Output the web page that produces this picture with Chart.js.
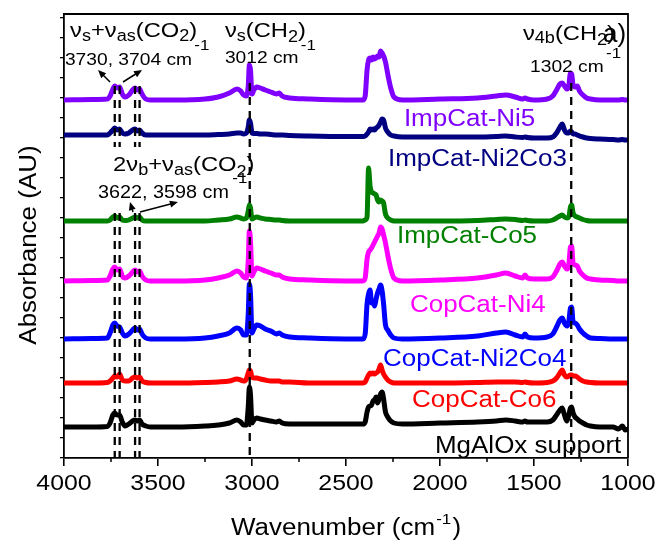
<!DOCTYPE html>
<html><head><meta charset="utf-8">
<script src="https://cdn.jsdelivr.net/npm/chart.js@4.4.0/dist/chart.umd.min.js"></script>
<style>html,body{margin:0;padding:0;background:#fff;}</style>
</head><body>
<canvas id="c" width="659" height="542"></canvas>
<script>
// ---------------- DATA ----------------
const wavenumbers = [
  4000,3850,3770,3755,3740,3730,3718,3704,3690,3675,3655,3635,3622,3610,3598,3585,3565,3540,
  3400,3250,3180,3120,3080,3060,3045,3030,3020,3014,3008,3000,2990,2975,2955,2930,2900,2870,2855,2840,2800,2700,2500,
  2410,2398,2388,2380,2372,2364,2356,2348,2340,2332,2324,2316,2308,2300,2290,2278,2262,2245,2200,
  2000,1800,1700,1650,1600,1560,1548,1535,1500,1430,1400,
  1380,1362,1350,1338,1325,1315,1306,1300,1292,1282,1270,1258,1240,1220,1200,1150,1080,1050,1030,1015,1000
];
const seriesNames = ['ImpCat-Ni5','ImpCat-Ni2Co3','ImpCat-Co5','CopCat-Ni4','CopCat-Ni2Co4','CopCat-Co6','MgAlOx support'];
// vertical stacking offsets of each spectrum
const offsets = [358, 323, 237, 177, 119, 75, 31];

const impCatNi5 = [
  0,0.5,1,4,11,14,12,13,6,3,5,10,12,10,11,6,1,0,
  0,1,3,7,11,9,5,4,14,35,30,6,10,13,12,10,8,6,7,4,2,1,0,
  0,4,30,40,42,40,43,41,42,44,43,49,47,44,38,26,12,3,0,
  1,2,4,5,3,1,2,1,0,1,4,
  10,16,17,14,11,14,27,26,15,13,14,9,5,2,1,0,0,0,0.5,0,0
];
const impCatNi2Co3 = [
  0,0,0,2,5,7,5,6,2,1,2,5,6,4,5,2,0,0,
  0,0,0.5,1,2,2,1,2,8,15,12,2,1.5,1.5,1,1,0.5,0,0,0,-0.5,-1,-1.5,
  -1.5,-1,1,3,6,5,6,5,7,8,10,13,16,15,7,3,0,-1,-2,
  -2,-2,-1.5,-1,-2,-2.5,-2,-2.5,-3,-3,-2,
  2,8,11,5,2,2,4,3,1,1,0,-1,-2,-3,-3.5,-4,-4.5,-5,-4.5,-5,-5
];
const impCatCo5 = [
  0,0,0,1,4,5,3,4,1,0.5,1,3,4,3,4,1,0,0,
  0,0,1,2,4,3,2,3,10,16,13,2,3,4,3,2,1.5,1,1,0.5,0,0,0,
  0,1,4,53,35,29,28,27,26,21,19,21,20,18,7,3,1,0,0,
  0,0.5,1.5,2,1.5,0.5,1,0.5,0,0,1,
  3,5,6,4,3,4,14,16,8,5,4,3,1.5,0.5,0,0,0,0,0,0,0
];
const copCatNi4 = [
  0,0.5,1,5,12,14,11,12,5,3,5,9,11,9,10,5,1,0,
  0,1,3,6,10,8,4,3,20,50,40,5,9,13,12,10,8,6,6,4,2,1,0,
  0,3,22,29,31,33,36,39,42,45,48,54,52,46,38,26,12,3,0,
  1,3,6,8,5,3,6,3,2,2,4,
  10,17,19,15,12,16,34,35,18,16,15,10,6,3,2,1,0.5,0,0,0,0
];
const copCatNi2Co4 = [
  0,0.5,1,6,14,16,13,12,6,3,5,9,11,9,10,5,1,0,
  0,1,3,6,11,9,4,4,25,55,45,6,10,14,13,10,8,5,6,4,2,1,0,
  0,5,35,45,49,36,38,33,40,46,50,54,48,35,14,9,4,1,0,
  1,3,6,7,4,2,5,2,1,2,5,
  12,19,21,16,13,17,31,32,17,16,14,10,6,3,1,0.5,0,0,0,0,0
];
const copCatCo6 = [
  0,0,0.5,2,5,7,6,9,3,2,2,5,6,5,6,2,0.5,0,
  0,0.5,1,2,4,3,2,4,10,13,12,6,5,5,4,3,2,2,2,1,1,0,0,
  0,1,5,8,10,9,10,9,10,11,14,18,13,9,6,3,1,0,0,
  0,0.5,1,1,1,0.5,1,0.5,0,0.5,2,
  5,10,13,8,6,7,8,8,7,7,6,4,2,1,0.5,0,0,0,0,0,0
];
const mgAlOxSupport = [
  0,0,0.5,4,12,14,12,12,5,1,3,6,7,6,7,3,1,0,
  0,1,2,4,7,5,2,2,20,40,32,4,7,9,8,7,6,5,6,4,3,3,3,
  3,5,15,20,21,22,26,27,30,24,28,33,35,28,15,10,6,4,3,
  4,5,6,7,6,5,6,5,5,5,7,
  12,17,19,12,6,12,19,20,14,10,8,6,4,2,1,0,0,-2,1,-3,-2
];
const spectra = [impCatNi5, impCatNi2Co3, impCatCo5, copCatNi4, copCatNi2Co4, copCatCo6, mgAlOxSupport];

const xTickLabels = [4000,3500,3000,2500,2000,1500,1000];
const xMinorTicks = [3750,3250,2750,2250,1750,1250];
const co2Lines = [3730,3704,3622,3598];
const bandLines = [3012,1302];

// ---------------- STYLE ----------------
const colors = ['#8000ff','#000080','#008000','#ff00ff','#0000ff','#ff0000','#000000'];
const FONT = '"Liberation Sans", Arial, Helvetica, sans-serif';
const SX = 1.13;

// label anchors (data coordinates: wavenumber, height)
const seriesLabelPos = [
  [2192,332],[2277,292],[2229,215],[2160,146],[2303,92],[2149,51],[2027,5]
];
const notes = [
  {w:3968, v:421, parts:[['ν',21],['s',16,4],['+',21],['ν',21],['as',16,4],['(CO',21],['2',16,4],[')',21]]},
  {w:3995, v:393, parts:[['3730, 3704 cm',17,0,2],['-1',15,-15]]},
  {w:3144, v:421, parts:[['ν',21],['s',16,4],['(CH',21],['2',16,5],[')',21]]},
  {w:3144, v:395, parts:[['3012 cm',17,0,2],['-1',15,-13]]},
  {w:1559, v:418, parts:[['ν',21],['4b',16,3],['(CH',21],['2',16,5],[')',21]]},
  {w:1133, v:416, parts:[['a)',26]], sx:1.0},
  {w:1521, v:386, parts:[['1302 cm',17,0,2],['-1',15,-14]]},
  {w:3739, v:287, parts:[['2ν',21],['b',16,4],['+',21],['ν',21],['as',16,4],['(CO',21],['2',16,6],[')',21]]},
  {w:3819, v:260, parts:[['3622, 3598 cm',17.5,0,3],['-1',15,-15]]}
];
const arrows = [
  [3755,376,3819,388],[3686,376,3585,388],[3633,246,3649,256],[3596,246,3394,256]
];

function rich(ctx, x, y, parts, sx, color, align) {
  ctx.save();
  ctx.translate(x, y);
  ctx.scale(sx, 1);
  ctx.fillStyle = color || '#000';
  ctx.textBaseline = 'alphabetic';
  ctx.textAlign = 'left';
  let total = 0;
  parts.forEach(p => { ctx.font = p[1] + 'px ' + FONT; total += ctx.measureText(p[0]).width + (p[3] || 0); });
  let cx = align === 'center' ? -total / 2 : 0;
  parts.forEach(p => {
    ctx.font = p[1] + 'px ' + FONT;
    ctx.fillText(p[0], cx, p[2] || 0);
    cx += ctx.measureText(p[0]).width + (p[3] || 0);
  });
  ctx.restore();
}

function arrow(ctx, x1, y1, x2, y2) {
  const a = Math.atan2(y2 - y1, x2 - x1), L = 8, W = 3.5;
  ctx.save();
  ctx.strokeStyle = '#000'; ctx.fillStyle = '#000'; ctx.lineWidth = 1.5;
  ctx.beginPath(); ctx.moveTo(x1, y1);
  ctx.lineTo(x2 - Math.cos(a) * L * 0.7, y2 - Math.sin(a) * L * 0.7); ctx.stroke();
  ctx.beginPath(); ctx.moveTo(x2, y2);
  ctx.lineTo(x2 - Math.cos(a) * L + Math.sin(a) * W, y2 - Math.sin(a) * L - Math.cos(a) * W);
  ctx.lineTo(x2 - Math.cos(a) * L - Math.sin(a) * W, y2 - Math.sin(a) * L + Math.cos(a) * W);
  ctx.closePath(); ctx.fill();
  ctx.restore();
}

const decor = {
  id: 'decor',
  afterDatasetsDraw(chart) {
    const ctx = chart.ctx, xs = chart.scales.x, ys = chart.scales.y;
    ctx.save();
    ctx.strokeStyle = '#000'; ctx.lineWidth = 2.3; ctx.setLineDash([8, 6]);
    co2Lines.forEach(w => {
      const x = xs.getPixelForValue(w);
      [[372, 311], [245, 0]].forEach(s => {
        ctx.beginPath(); ctx.moveTo(x, ys.getPixelForValue(s[0])); ctx.lineTo(x, ys.getPixelForValue(s[1])); ctx.stroke();
      });
    });
    bandLines.forEach(w => {
      const x = xs.getPixelForValue(w);
      ctx.beginPath(); ctx.moveTo(x, ys.getPixelForValue(375)); ctx.lineTo(x, ys.getPixelForValue(0)); ctx.stroke();
    });
    ctx.restore();
  },
  afterDraw(chart) {
    const ctx = chart.ctx, xs = chart.scales.x, ys = chart.scales.y, ca = chart.chartArea;
    ctx.save();
    ctx.strokeStyle = '#000'; ctx.lineWidth = 1.8;
    ctx.beginPath(); ctx.moveTo(ca.left, ca.top); ctx.lineTo(ca.right, ca.top); ctx.lineTo(ca.right, ca.bottom); ctx.stroke();
    ctx.lineWidth = 1.5;
    xMinorTicks.forEach(w => {
      const x = xs.getPixelForValue(w);
      ctx.beginPath(); ctx.moveTo(x, ca.bottom); ctx.lineTo(x, ca.bottom + 4); ctx.stroke();
    });
    xTickLabels.forEach(w => {
      rich(ctx, xs.getPixelForValue(w), ca.bottom + 32, [[String(w), 22]], SX, '#000', 'center');
    });
    rich(ctx, (ca.left + ca.right) / 2, 535, [['Wavenumber (cm', 23, 0, 1], ['-1', 15, -11, 1], [')', 23]], SX, '#000', 'center');
    ctx.save();
    ctx.translate(36, 245); ctx.rotate(-Math.PI / 2);
    rich(ctx, 0, 0, [['Absorbance (AU)', 23]], SX, '#000', 'center');
    ctx.restore();
    seriesNames.forEach((n, i) => {
      const p = seriesLabelPos[i];
      rich(ctx, xs.getPixelForValue(p[0]), ys.getPixelForValue(p[1]), [[n, 23]], SX, colors[i]);
    });
    notes.forEach(n => rich(ctx, xs.getPixelForValue(n.w), ys.getPixelForValue(n.v), n.parts, n.sx || SX, '#000'));
    arrows.forEach(a => arrow(ctx, xs.getPixelForValue(a[0]), ys.getPixelForValue(a[1]), xs.getPixelForValue(a[2]), ys.getPixelForValue(a[3])));
    ctx.restore();
  }
};

const datasets = spectra.map((arr, i) => ({
  label: seriesNames[i],
  data: wavenumbers.map((w, j) => ({ x: w, y: arr[j] + offsets[i] })),
  borderColor: colors[i],
  borderWidth: 5,
  pointRadius: 0,
  fill: false,
  cubicInterpolationMode: 'monotone',
  borderJoinStyle: 'round',
  borderCapStyle: 'round'
}));

new Chart(document.getElementById('c'), {
  type: 'line',
  data: { datasets },
  options: {
    responsive: false, animation: false, devicePixelRatio: 1,
    layout: { padding: { left: 0, right: 31, top: 14, bottom: 0 } },
    plugins: { legend: { display: false }, tooltip: { enabled: false } },
    scales: {
      x: {
        type: 'linear', reverse: true, min: 1000, max: 4000,
        ticks: { display: false, stepSize: 500, includeBounds: false },
        grid: { display: true, drawOnChartArea: false, drawTicks: true, tickLength: 8, color: '#000', lineWidth: 1.6 },
        border: { display: true, color: '#000', width: 1.8 },
        afterFit: s => { s.height = 84; }
      },
      y: {
        type: 'linear', min: 0, max: 444,
        ticks: { display: false, stepSize: 20, includeBounds: false },
        grid: { display: true, drawOnChartArea: false, drawTicks: true, tickLength: 4, color: '#000', lineWidth: 1.3 },
        border: { display: true, color: '#000', width: 1.8 },
        afterFit: s => { s.width = 64; }
      }
    }
  },
  plugins: [decor]
});
</script>
</body></html>
